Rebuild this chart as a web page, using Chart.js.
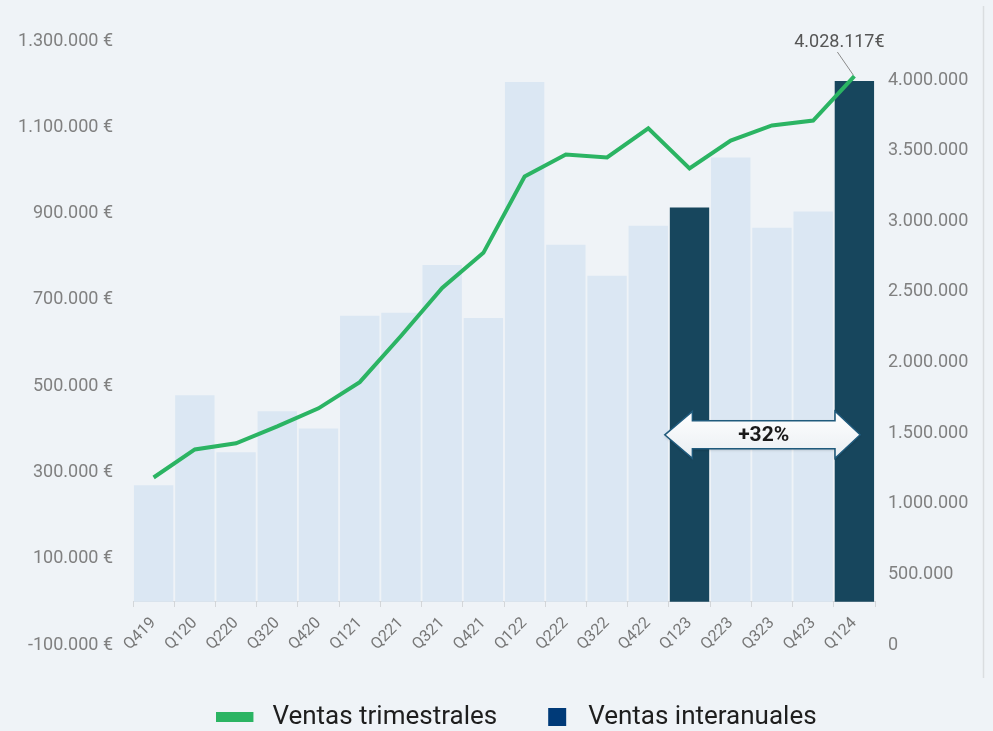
<!DOCTYPE html>
<html><head><meta charset="utf-8">
<script src="https://cdn.jsdelivr.net/npm/chart.js@4/dist/chart.umd.min.js"></script>
<style>html,body{margin:0;padding:0;background:#eff3f7;}#wrap{width:993px;height:731px;position:relative;}</style>
</head><body><div id="wrap"><canvas id="c" width="993" height="731"></canvas></div>
<script>
const categories = ['Q419','Q120','Q220','Q320','Q420','Q121','Q221','Q321','Q421','Q122','Q222','Q322','Q422','Q123','Q223','Q323','Q423','Q124'];
// Quarterly bars (left axis)
const barValues = [270000, 479000, 347000, 442000, 402000, 663000, 670000, 781000, 658000, 1205000, 828000, 756000, 872000, 914000, 1030000, 867000, 905000, 1207000];
// Rolling annual line (right axis)
const lineValues = [1186000, 1385000, 1428000, 1548000, 1676000, 1861000, 2188000, 2528000, 2777000, 3317000, 3473000, 3452000, 3658000, 3374000, 3572000, 3679000, 3714000, 4028117];
const highlighted = ['Q123', 'Q124'];
const legendLabels = ['Ventas trimestrales', 'Ventas interanuales'];
const leftTickValues = [-100000, 100000, 300000, 500000, 700000, 900000, 1100000, 1300000];
const rightTickValues = [0, 500000, 1000000, 1500000, 2000000, 2500000, 3000000, 3500000, 4000000];
const leftRange = [-100000, 1300000];
const rightRange = [0, 4277000];
const endLabel = '4.028.117€';
const arrowLabel = '+32%';

const GREEN = '#2bb463', LIGHT = '#dbe7f3', DARK = '#17465d', NAVY = '#003a78';
const fmt = v => Math.round(v).toString().replace(/\B(?=(\d{3})+(?!\d))/g, '.');

function makeImg(w, h, fn) { const c = document.createElement('canvas'); c.width = w; c.height = h; fn(c.getContext('2d')); return c; }
const lineImg = makeImg(43, 10, g => { g.fillStyle = GREEN; g.fillRect(0, 0, 37, 10); });
const squareImg = makeImg(43, 18, g => { g.fillStyle = NAVY; g.fillRect(16, 0, 18, 18); });

const extras = {
  id: 'extras',
  afterDatasetsDraw(chart) {
    const ctx = chart.ctx, xs = chart.scales.x, y1 = chart.scales.y1, ca = chart.chartArea;
    const cw = xs.width / categories.length;
    const ia = categories.indexOf(highlighted[0]), ib = categories.indexOf(highlighted[1]);
    const xa = xs.getPixelForValue(ia), xb = xs.getPixelForValue(ib);
    const yc = ca.top + 0.652 * (ca.bottom - ca.top);
    const lt = xa - 0.6 * cw, lb = xa + 0.07 * cw, rb = xb - 0.47 * cw, rt = xb + 0.14 * cw;
    const hh = 23.5, sh = 14;
    ctx.save();
    ctx.beginPath();
    ctx.moveTo(lt, yc);
    ctx.lineTo(lb, yc - hh); ctx.lineTo(lb, yc - sh); ctx.lineTo(rb, yc - sh); ctx.lineTo(rb, yc - hh);
    ctx.lineTo(rt, yc);
    ctx.lineTo(rb, yc + hh); ctx.lineTo(rb, yc + sh); ctx.lineTo(lb, yc + sh); ctx.lineTo(lb, yc + hh);
    ctx.closePath();
    const grd = ctx.createLinearGradient(0, yc - hh, 0, yc + hh);
    grd.addColorStop(0, '#ffffff'); grd.addColorStop(1, '#e9eef2');
    ctx.fillStyle = grd;
    ctx.shadowColor = 'rgba(0,0,0,0.25)'; ctx.shadowBlur = 3; ctx.shadowOffsetY = 1;
    ctx.fill();
    ctx.shadowColor = 'transparent';
    ctx.lineWidth = 1.5; ctx.strokeStyle = '#1f5a7c'; ctx.stroke();
    ctx.fillStyle = '#1a1a1a'; ctx.font = 'bold 21px Roboto'; ctx.textAlign = 'center'; ctx.textBaseline = 'middle';
    ctx.fillText(arrowLabel, (lb + rb) / 2, yc + 1);
    // end label
    const px = xb, py = y1.getPixelForValue(lineValues[lineValues.length - 1]);
    ctx.strokeStyle = '#8a8a8a'; ctx.lineWidth = 1;
    ctx.beginPath(); ctx.moveTo(px - 17, ca.top + 11); ctx.lineTo(px - 1, py - 1); ctx.stroke();
    ctx.fillStyle = '#555'; ctx.font = '18px Roboto'; ctx.textAlign = 'center'; ctx.textBaseline = 'middle';
    ctx.fillText(endLabel, px - 15, ca.top + 1);
    // right frame line
    ctx.strokeStyle = '#dadde0'; ctx.lineWidth = 1.5;
    ctx.beginPath(); ctx.moveTo(983.5, 6); ctx.lineTo(983.5, 678); ctx.stroke();
    ctx.restore();
  }
};

new Chart(document.getElementById('c'), {
  type: 'bar',
  data: {
    labels: categories,
    datasets: [
      { type: 'line', label: legendLabels[0], data: lineValues, yAxisID: 'y1', borderColor: GREEN, backgroundColor: GREEN,
        borderWidth: 4, pointRadius: 0, tension: 0, order: 0 },
      { type: 'bar', label: legendLabels[1], data: barValues, yAxisID: 'y',
        backgroundColor: categories.map(c => highlighted.includes(c) ? DARK : LIGHT),
        categoryPercentage: 1, barPercentage: 0.955, order: 1 }
    ]
  },
  options: {
    responsive: false, animation: false, devicePixelRatio: 1,
    layout: { padding: { left: 0, right: -40, top: 41, bottom: -9 } },
    scales: {
      x: {
        position: { y: 0 },
        grid: { display: true, drawOnChartArea: false, drawTicks: true, tickLength: 5, color: '#d3d6d9', offset: true },
        border: { display: true, color: '#d3d6d9' },
        ticks: { minRotation: 45, maxRotation: 45, autoSkip: false, padding: 7, color: '#777', font: { family: 'Roboto', size: 16 } }
      },
      y: {
        position: 'left', min: leftRange[0], max: leftRange[1],
        grid: { display: false, drawTicks: false }, border: { display: false },
        afterBuildTicks: s => { s.ticks = leftTickValues.map(v => ({ value: v })); },
        ticks: { padding: 20, color: '#808080', font: { family: 'Roboto', size: 18 }, callback: v => fmt(v) + ' €' },
        afterFit: s => { s.width = 133; }
      },
      y1: {
        position: 'right', min: rightRange[0], max: rightRange[1],
        grid: { display: false, drawTicks: false }, border: { display: false },
        afterBuildTicks: s => { s.ticks = rightTickValues.map(v => ({ value: v })); },
        ticks: { padding: 13, color: '#808080', font: { family: 'Roboto', size: 18 }, callback: v => fmt(v) },
        afterFit: s => { s.width = 158; }
      }
    },
    plugins: {
      tooltip: { enabled: false },
      legend: {
        position: 'bottom',
        title: { display: true, text: ' ', font: { size: 10 }, padding: { top: 12, bottom: 0 } },
        labels: {
          usePointStyle: true, pointStyleWidth: 43, padding: 35, color: '#1e1e1e',
          font: { family: 'Roboto', size: 26 },
          generateLabels: () => [
            { text: legendLabels[0], pointStyle: lineImg, fillStyle: GREEN, strokeStyle: GREEN, lineWidth: 0, fontColor: '#1e1e1e', datasetIndex: 0 },
            { text: legendLabels[1], pointStyle: squareImg, fillStyle: NAVY, strokeStyle: NAVY, lineWidth: 0, fontColor: '#1e1e1e', datasetIndex: 1 }
          ]
        }
      }
    }
  },
  plugins: [extras]
});
</script></body></html>
